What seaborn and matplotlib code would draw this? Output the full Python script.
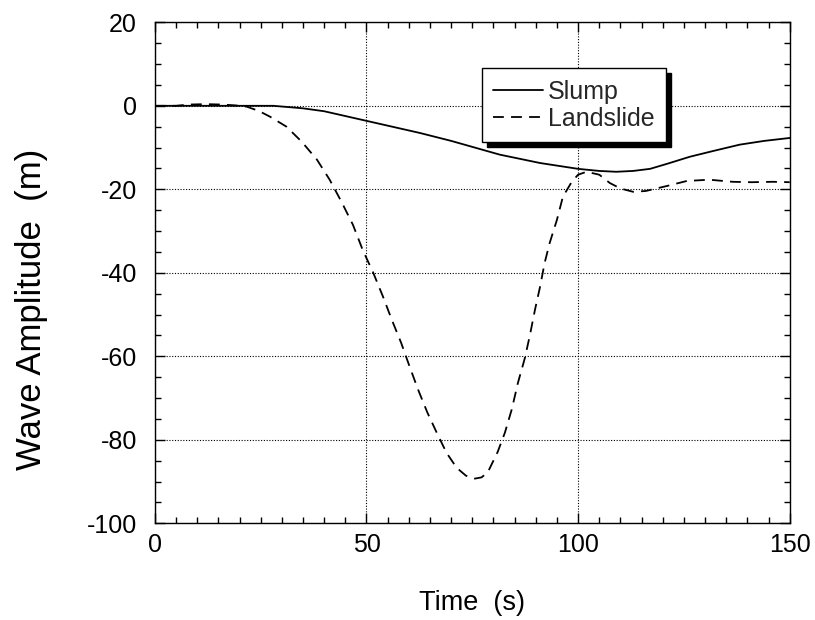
import numpy as np
import pandas as pd
import matplotlib
matplotlib.use("Agg")
import matplotlib.pyplot as plt
import seaborn as sns

# time (s) and wave amplitude (m)
slump_t = [0, 20, 28, 35, 40, 50, 62.6, 70, 81.5, 91, 100, 105, 109, 113, 117, 121,
           126.4, 132, 138.2, 144, 150]
slump_y = [0, 0, 0, -0.6, -1.3, -3.6, -6.5, -8.4, -11.7, -13.7, -15.1, -15.6, -15.8, -15.6, -15.1, -13.9,
           -12.2, -10.8, -9.3, -8.4, -7.7]

slide_t = [0, 5, 8, 12, 16, 19, 21.7, 24.5, 27.2, 31.1, 34.7, 38.3, 41.3, 44.1, 46.8, 49.1,
           51.6, 53.9, 56, 58.2, 60.2, 62.2, 64.4, 66.6, 68.9, 71.3, 73.5, 75.6, 77.2, 78.7,
           81, 82.7, 84.3, 85.8, 87.4, 88.6, 89.8, 91, 92.1, 93.3, 95, 96.4, 98.5, 100,
           102, 105, 107.5, 110, 113, 116, 121, 125.7, 131, 136.5, 141, 146, 150]
slide_y = [0, 0, 0.3, 0.4, 0.3, 0.1, -0.2, -1.2, -2.6, -5, -8.6, -12.9, -17.7, -23, -28.5, -34.5,
           -40, -45.7, -51.3, -56.8, -62.5, -68, -73.5, -78.3, -83.1, -86.7, -88.6, -89.3, -89, -87.7,
           -82.9, -78.3, -72.8, -66.3, -60.5, -55, -48.9, -43.4, -37.6, -32.8, -27.3, -21.8, -18.2, -16.5,
           -15.8, -16.5, -18.5, -19.8, -20.6, -20.4, -19.2, -18, -17.7, -18.2, -18.3, -18.2, -18.3]

df = pd.concat([
    pd.DataFrame({"Time": slump_t, "Amp": slump_y, "Series": "Slump"}),
    pd.DataFrame({"Time": slide_t, "Amp": slide_y, "Series": "Landslide"}),
])

sns.set_theme(style="ticks")
plt.rcParams["font.family"] = ["Liberation Sans", "DejaVu Sans"]
plt.rcParams["axes.unicode_minus"] = False

fig = plt.figure(figsize=(8.15, 6.2), dpi=100)
ax = fig.add_axes([0.19, 0.156, 0.779, 0.808])

sns.lineplot(data=df, x="Time", y="Amp", hue="Series", style="Series",
             palette=["black", "black"], dashes=[(None, None), (6, 4)],
             linewidth=1.3, ax=ax, sort=False, estimator=None)

ax.set_xlim(0, 150)
ax.set_ylim(-100, 20)
ax.set_xticks([0, 50, 100, 150])
ax.set_yticks([-100, -80, -60, -40, -20, 0, 20])
ax.set_xticks(np.arange(0, 151, 5), minor=True)
ax.set_yticks(np.arange(-100, 21, 5), minor=True)
ax.tick_params(which="both", direction="in", top=True, right=True, labelsize=18,
               color="black", labelcolor="black", width=1)
ax.tick_params(which="major", length=7)
ax.tick_params(which="minor", length=4.3)
ax.tick_params(axis="x", which="major", pad=7)
ax.tick_params(axis="y", which="major", pad=13)
ax.grid(True, which="major", linestyle=(0, (1, 1.5)), color="black", linewidth=0.8)
for s in ax.spines.values():
    s.set_color("black")
    s.set_linewidth(1)

ax.set_xlabel("Time  (s)", fontsize=19.5, labelpad=24, color="black")
ax.set_ylabel("Wave Amplitude  (m)", fontsize=25, color="black")
ax.yaxis.set_label_coords(-0.168, 0.427)

ax.legend(loc="upper left", bbox_to_anchor=(0.515, 0.908), borderaxespad=0, fontsize=18,
          frameon=True, fancybox=False, edgecolor="black", framealpha=1, handlelength=2.0,
          borderpad=0.45, labelspacing=0.12, handletextpad=0.2,
          shadow={"color": "black", "alpha": 1, "ox": 3.5, "oy": -3.5})

fig.savefig("out.png", dpi=100)
